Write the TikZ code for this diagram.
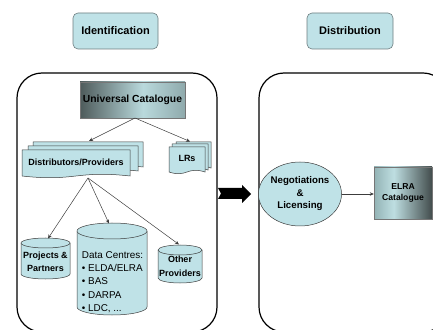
\documentclass[tikz,border=0pt]{standalone}
\usepackage{fontspec}
\setmainfont{Liberation Sans}
\usetikzlibrary{arrows.meta,shapes.geometric}
\definecolor{lblue}{HTML}{BFE2E7}
\definecolor{edgec}{HTML}{3C3C3C}
\definecolor{hdredge}{HTML}{6E7E80}
\definecolor{uA}{HTML}{4E5B5B}
\definecolor{uB}{HTML}{B9D9DC}
\definecolor{uC}{HTML}{8FAAAC}
\definecolor{eA}{HTML}{93B3B5}
\definecolor{eB}{HTML}{BEDEE1}
\definecolor{eC}{HTML}{424C4C}
\pgfdeclarehorizontalshading{unishade}{100bp}{color(0bp)=(uA); color(25bp)=(uA); color(55bp)=(uB); color(75bp)=(uC); color(100bp)=(uC)}
\pgfdeclarehorizontalshading{elrashade}{100bp}{color(0bp)=(eA); color(25bp)=(eA); color(42bp)=(eB); color(75bp)=(eC); color(100bp)=(eC)}
\newcommand{\docshape}[4]{%
  \filldraw[shapebox] (#1,#2) -- (#3,#2) -- (#3,#4)
    .. controls ({(#1+#3)/2},{#4+6}) and ({(#1+#3)/2},{#4-6}) .. (#1,#4) -- cycle;}
\newcommand{\cylshape}[5]{% cx, rx, ytop, ybottom, ry
  \filldraw[shapebox] ({#1-#2},{#3-#5}) -- ({#1-#2},{#4+#5})
    arc[start angle=180,end angle=360,x radius=#2pt,y radius=#5pt]
    -- ({#1+#2},{#3-#5})
    arc[start angle=0,end angle=180,x radius=#2pt,y radius=#5pt] -- cycle;
  \draw[shapebox] ({#1-#2},{#3-#5}) arc[start angle=180,end angle=360,x radius=#2pt,y radius=#5pt];}
\begin{document}
\begin{tikzpicture}[x=1pt,y=1pt,
  shapebox/.style={draw=edgec,fill=lblue,line width=0.5pt},
  hdr/.style={draw=hdredge,fill=lblue,rounded corners=5pt,line width=0.6pt,
    font=\bfseries\fontsize{11}{13}\selectfont,inner sep=0pt},
  catbox/.style={draw=edgec!70,line width=0.4pt,inner sep=0pt,align=center,
    font=\bfseries\fontsize{9}{11}\selectfont},
  bigbox/.style={draw=black,line width=1.2pt,rounded corners=25pt},
  lbl/.style={font=\bfseries\fontsize{9}{13}\selectfont,align=center,inner sep=0pt},
  conn/.style={draw=edgec,line width=0.5pt,-{Stealth[length=4pt,width=3.5pt]}},
]
\useasboundingbox (0,0) rectangle (433,329);
\begin{scope}
  \clip (0,0) rectangle (433,329);
  \draw[bigbox] (17,-3) rectangle (217,256);
  \draw[bigbox] (259,-3) rectangle (448,256);
\end{scope}

% headers
\node[hdr,minimum width=85pt,minimum height=36pt] (ident) at (115.5,298) {Identification};
\node[hdr,minimum width=86pt,minimum height=36pt] (distr) at (350,298) {Distribution};

% universal catalogue
\node[catbox,shading=unishade,minimum width=105pt,minimum height=36pt,
  font=\bfseries\fontsize{10.3}{12}\selectfont] (univ) at (132.5,229) {Universal Catalogue};

% distributors / providers
\docshape{33}{187}{143}{162}
\docshape{28}{183}{138}{158}
\docshape{22}{179}{130}{153}
\node[lbl] (dist) at (76,167) {Distributors/Providers};

% LRs
\docshape{176}{187}{211}{161}
\docshape{172}{185}{208}{159}
\docshape{169}{182}{205}{157}
\node[lbl] (lrs) at (187,171) {LRs};

% connectors from universal catalogue
\coordinate (univb) at (135,211);
\coordinate (distT) at (89,188);
\coordinate (lrsT) at (190,187.5);
\draw[conn] (univb) -- (distT);
\draw[conn] (univb) -- (lrsT);

% cylinders
\cylshape{45.5}{24.5}{91}{50}{5}
\node[lbl] (proj) at (45.5,67.5) {Projects \&\\Partners};
\cylshape{112}{35}{106}{14}{8}
\node[align=left,inner sep=0pt,font=\fontsize{9.9}{13.4}\selectfont] (data) at (112.5,47)
  {Data Centres:\\• ELDA/ELRA\\• BAS\\• DARPA\\• LDC, ...};
\cylshape{180}{22}{84}{46}{5}
\node[lbl,font=\bfseries\fontsize{9}{14}\selectfont] (other) at (180,63) {Other\\Providers};

\coordinate (distB) at (88,151);
\coordinate (projT) at (48,90.5);
\coordinate (dataT) at (109,105.5);
\coordinate (otherT) at (179,84.5);
\draw[conn] (distB) -- (projT);
\draw[conn] (distB) -- (dataT);
\draw[conn] (distB) -- (otherT);

% big arrow
\fill[black] (218,141) -- (242,141) -- (242,144) -- (251,135) -- (242,126) -- (242,130)
  -- (218,130) -- (221,135.5) -- cycle;

% distribution side
\node[ellipse,draw=edgec,fill=lblue,line width=0.5pt,minimum width=76pt,minimum height=64pt,
  inner sep=0pt,align=center,font=\bfseries\fontsize{9.7}{12.5}\selectfont] (nego) at (300,135)
  {Negotiations\\\&\\Licensing};
\node[catbox,shading=elrashade,minimum width=58pt,minimum height=52pt,
  font=\bfseries\fontsize{8.6}{11}\selectfont] (elra) at (403,136) {ELRA\\Catalogue};
\draw[conn] (nego.east) -- (nego.east -| elra.west);
\end{tikzpicture}
\end{document}
